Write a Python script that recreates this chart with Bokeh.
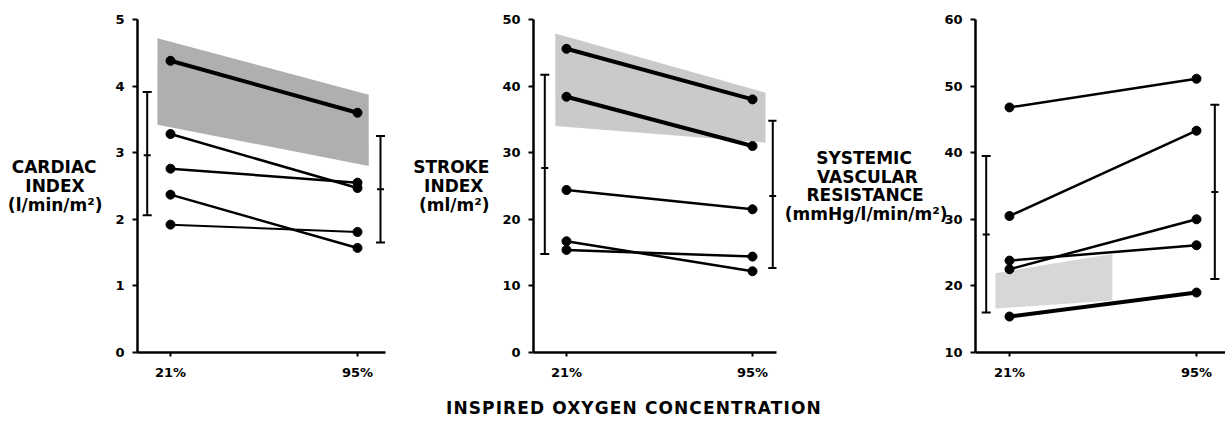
from bokeh.plotting import figure
from bokeh.models import (FixedTicker, Div, Range1d, Whisker,
                          ColumnDataSource, TeeHead)
from bokeh.layouts import row, column
from bokeh.embed import file_html
from bokeh.resources import INLINE

# ---------------- data ----------------
conditions = ["21%", "95%"]

# Cardiac index (l/min/m2)
ci_21 = [4.38, 3.28, 2.76, 2.37, 1.92]
ci_95 = [3.60, 2.47, 2.55, 1.57, 1.81]
ci_mean = [2.96, 2.45]
ci_low = [2.06, 1.65]
ci_high = [3.91, 3.25]
ci_band_x = [-0.07, 1.06, 1.06, -0.07]
ci_band_y = [4.72, 3.87, 2.80, 3.42]
ci_yticks = [0, 1, 2, 3, 4, 5]
ci_label = ["CARDIAC", "INDEX", "(l/min/m²)"]

# Stroke index (ml/m2)
si_21 = [45.6, 38.4, 24.4, 16.7, 15.4]
si_95 = [38.0, 31.0, 21.5, 12.2, 14.4]
si_mean = [27.7, 23.5]
si_low = [14.8, 12.7]
si_high = [41.7, 34.8]
si_band_x = [-0.06, 1.07, 1.07, -0.06]
si_band_y = [47.9, 39.0, 31.5, 34.0]
si_yticks = [0, 10, 20, 30, 40, 50]
si_label = ["STROKE", "INDEX", "(ml/m²)"]

# Systemic vascular resistance (mmHg/l/min/m2)
svr_21 = [46.8, 30.5, 23.8, 22.5, 15.4]
svr_95 = [51.1, 43.3, 26.1, 30.0, 19.0]
svr_mean = [27.7, 34.1]
svr_low = [16.0, 21.05]
svr_high = [39.5, 47.2]
svr_band_x = [-0.075, 0.55, 0.55, -0.075]
svr_band_y = [21.9, 24.8, 17.8, 16.6]
svr_yticks = [10, 20, 30, 40, 50, 60]
svr_label = ["SYSTEMIC", "VASCULAR", "RESISTANCE", "(mmHg/l/min/m²)"]

x_title = "INSPIRED OXYGEN CONCENTRATION"

FONT = "DejaVu Sans"
NBSP = "\u00a0"


def centred(lines, pads):
    # the axis label block is right-justified; trailing no-break spaces
    # move the shorter lines towards the centre of the block
    return "\n".join(t + NBSP * n for t, n in zip(lines, pads))


def make_panel(width, border_left, border_right, x_range, y_range, yticks,
               v21, v95, widths, bar_x, mean, low, high, band_x, band_y,
               band_alpha, ylabel, label_standoff):
    p = figure(width=width, height=383, output_backend="svg",
               toolbar_location=None, x_range=Range1d(*x_range),
               y_range=Range1d(*y_range), min_border_left=border_left,
               min_border_right=border_right, min_border_top=19,
               min_border_bottom=31)
    p.outline_line_color = None
    p.grid.visible = False
    p.background_fill_color = "white"

    # shaded normal range
    p.patch(band_x, band_y, fill_color="#7a7a7a", fill_alpha=band_alpha,
            line_color=None)

    src = ColumnDataSource(dict(x0=[0] * len(v21), x1=[1] * len(v95),
                                y0=v21, y1=v95, w=widths))
    p.segment("x0", "y0", "x1", "y1", source=src, line_color="black",
              line_width="w")
    p.scatter("x0", "y0", source=src, size=9, color="black")
    p.scatter("x1", "y1", source=src, size=9, color="black")

    bsrc = ColumnDataSource(dict(x=bar_x, mean=mean, low=low, high=high))
    wk = Whisker(source=bsrc, base="x", upper="high", lower="low",
                 dimension="height", line_width=2, line_color="black",
                 upper_head=TeeHead(size=9, line_width=2),
                 lower_head=TeeHead(size=9, line_width=2))
    p.add_layout(wk)
    p.scatter("x", "mean", source=bsrc, marker="dash", size=7,
              line_width=2, color="black")

    # axes
    for ax in (p.xaxis[0], p.yaxis[0]):
        ax.axis_line_width = 2.5
        ax.axis_line_color = "black"
        ax.major_tick_line_width = 2
        ax.major_tick_in = 0
        ax.minor_tick_line_color = None
        ax.major_label_text_font = FONT
        ax.major_label_text_font_style = "bold"
        ax.major_label_text_font_size = "13px"
        ax.major_label_text_color = "black"
    p.yaxis.ticker = FixedTicker(ticks=yticks)
    p.yaxis.major_tick_out = 5
    p.yaxis.major_label_standoff = 8
    p.xaxis.ticker = FixedTicker(ticks=[0, 1])
    p.xaxis.major_label_overrides = {0: conditions[0], 1: conditions[1]}
    p.xaxis.major_tick_out = 4
    p.xaxis.major_label_standoff = 8

    # axis title
    ya = p.yaxis[0]
    ya.axis_label = ylabel
    ya.axis_label_orientation = "horizontal"
    ya.axis_label_text_align = "center"
    ya.axis_label_standoff = label_standoff
    ya.axis_label_text_font = FONT
    ya.axis_label_text_font_style = "bold"
    ya.axis_label_text_font_size = "17px"
    ya.axis_label_text_color = "black"
    ya.axis_label_text_line_height = 0.93
    return p


p1 = make_panel(400, 137, 15, (-0.1765, 1.1497), (0, 5), ci_yticks,
                ci_21, ci_95, [4, 2.5, 2.5, 2.5, 2], [-0.1246, 1.123],
                ci_mean, ci_low, ci_high, ci_band_x, ci_band_y, 0.6,
                centred(ci_label, [1, 3, 0]), 10)

p2 = make_panel(378, 133, 2, (-0.1774, 1.129), (0, 50), si_yticks,
                si_21, si_95, [4, 4, 2.5, 2.5, 2.5], [-0.1167, 1.109],
                si_mean, si_low, si_high, si_band_x, si_band_y, 0.4,
                centred(si_label, [0, 1, 0]), 10)

p3 = make_panel(447, 197, 0, (-0.1818, 1.155), (10, 60), svr_yticks,
                svr_21, svr_95, [2.5, 2.5, 2.5, 2.5, 4], [-0.1246, 1.0979],
                svr_mean, svr_low, svr_high, svr_band_x, svr_band_y, 0.3,
                centred(svr_label, [6, 5, 4, 0]), -6)

title_div = Div(
    text=('<div style="font-family:\'DejaVu Sans\';font-weight:bold;'
          'font-size:17px;line-height:17px;padding-top:12px;'
          'padding-left:441px;letter-spacing:1.1px;white-space:nowrap;'
          'color:black;">' + x_title + '</div>'),
    width=1225, height=39)

layout = column(row(p1, p2, p3), title_div)

open("out.html", "w").write(file_html(layout, INLINE))
